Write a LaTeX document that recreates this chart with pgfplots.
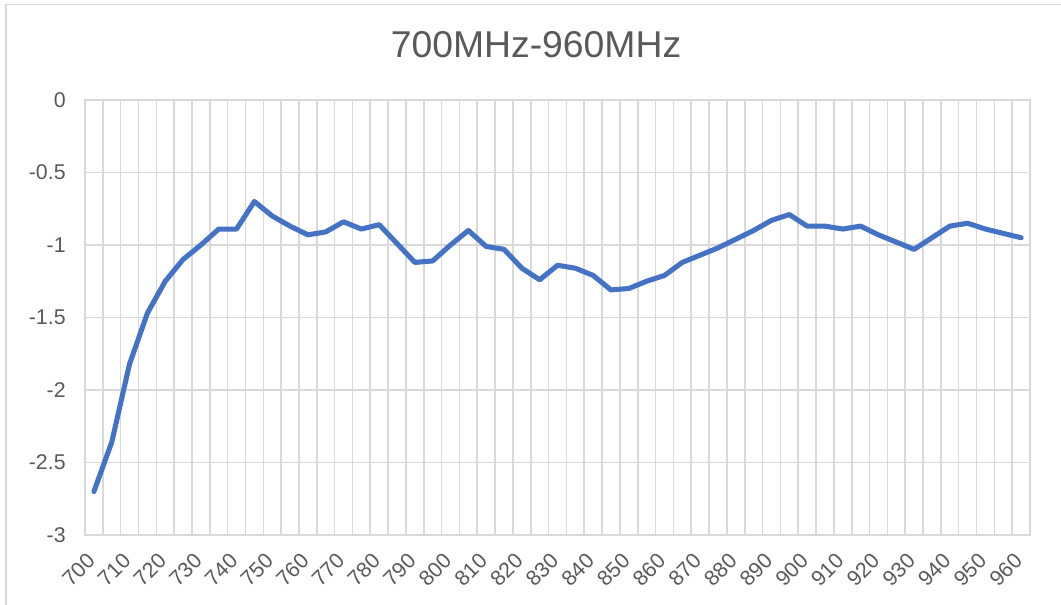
\documentclass[border=0pt]{standalone}
\usepackage{fontspec}
\setmainfont{Liberation Sans}
\usepackage{pgfplots}
\pgfplotsset{compat=1.18}

\definecolor{gridgray}{RGB}{217,217,217}
\definecolor{textgray}{RGB}{89,89,89}
\definecolor{xlblue}{RGB}{68,114,196}

\begin{document}
\begin{tikzpicture}[x=1pt,y=1pt]
\useasboundingbox (0,0) rectangle (795.75,453.75);
% chart frame (only left and top edges are visible)
\draw[gridgray, line width=1pt] (4.5,0) -- (4.5,450.4) -- (795.75,450.4);
\node[textgray, font=\fontsize{28}{32}\selectfont] at (402,420) {700MHz-960MHz};
\begin{axis}[
    at={(63.75pt,52.5pt)}, anchor=south west,
    scale only axis,
    width=708.75pt, height=326.25pt,
    xmin=697.5, xmax=962.5,
    ymin=-3, ymax=0,
    xtick={700,710,...,960},
    minor xtick={697.5,702.5,...,962.5},
    ytick={-3,-2.5,-2,-1.5,-1,-0.5,0},
    yticklabels={-3,-2.5,-2,-1.5,-1,-0.5,0},
    xminorgrids=true, ymajorgrids=true,
    grid style={gridgray, line width=1.2pt},
    minor grid style={gridgray, line width=1.2pt},
    axis line style={gridgray, line width=1.2pt},
    major tick length=0pt, minor tick length=0pt,
    /pgf/number format/assume math mode=true,
    /pgf/number format/1000 sep={},
    tick label style={textgray, font=\fontsize{16}{19}\selectfont},
    yticklabel style={xshift=-11pt},
    xticklabel style={xshift=-2pt, yshift=-16.5pt, rotate=45, anchor=east, inner sep=0pt},
]
\addplot[color=xlblue, line width=3.8pt, line join=round, line cap=round, mark=none]
coordinates {
(700,-2.70)(705,-2.36)(710,-1.82)(715,-1.47)(720,-1.25)(725,-1.10)
(730,-1.00)(735,-0.89)(740,-0.89)(745,-0.70)(750,-0.80)(755,-0.87)
(760,-0.93)(765,-0.91)(770,-0.84)(775,-0.89)(780,-0.86)(785,-0.99)
(790,-1.12)(795,-1.11)(800,-1.00)(805,-0.90)(810,-1.01)(815,-1.03)
(820,-1.16)(825,-1.24)(830,-1.14)(835,-1.16)(840,-1.21)(845,-1.31)
(850,-1.30)(855,-1.25)(860,-1.21)(865,-1.12)(870,-1.07)(875,-1.02)
(880,-0.96)(885,-0.90)(890,-0.83)(895,-0.79)(900,-0.87)(905,-0.87)
(910,-0.89)(915,-0.87)(920,-0.93)(925,-0.98)(930,-1.03)(935,-0.95)
(940,-0.87)(945,-0.85)(950,-0.89)(955,-0.92)(960,-0.95)
};
\end{axis}
\end{tikzpicture}
\end{document}
